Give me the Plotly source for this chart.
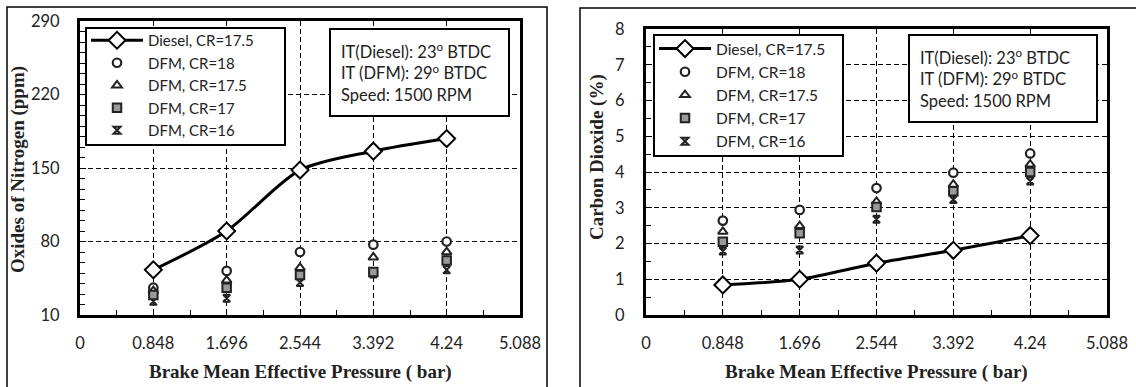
import plotly.graph_objects as go

# Brake mean effective pressure (bar)
bmep = [0.848, 1.696, 2.544, 3.392, 4.24]
x_tick_vals = [0, 0.848, 1.696, 2.544, 3.392, 4.24, 5.088]
x_tick_text = ["0", "0.848", "1.696", "2.544", "3.392", "4.24", "5.088"]

# Oxides of nitrogen (ppm)
nox_diesel = [53, 90, 148, 166, 178]
nox_cr18 = [36, 52, 70, 77, 80]
nox_cr175 = [33, 43, 55, 65, 70]
nox_cr17 = [29, 36, 48, 51, 62]
nox_cr16 = [23, 26, 41, 49, 53]
nox_ticks = [10, 80, 150, 220, 290]

# Carbon dioxide (%)
co2_diesel = [0.84, 1.0, 1.45, 1.81, 2.22]
co2_cr18 = [2.64, 2.94, 3.55, 3.98, 4.52]
co2_cr175 = [2.33, 2.49, 3.17, 3.65, 4.21]
co2_cr17 = [2.05, 2.29, 3.02, 3.46, 4.0]
co2_cr16 = [1.79, 1.82, 2.68, 3.23, 3.75]
co2_ticks = [0, 1, 2, 3, 4, 5, 6, 7, 8]

series_names = ["Diesel, CR=17.5", "DFM, CR=18", "DFM, CR=17.5", "DFM, CR=17", "DFM, CR=16"]

W, H = 1136, 387


def px_x(p):
    return p / W


def px_y(p):
    return 1 - p / H


SANS = "Lato"
SERIF = "Liberation Serif"
INK = "#222"

fig = go.Figure()


def add_panel(xa, ya, legend, diesel, cr18, cr175, cr17, cr16):
    fig.add_trace(go.Scatter(
        x=bmep, y=diesel, name=series_names[0], mode="lines+markers",
        line=dict(color="black", width=3, shape="spline", smoothing=0.8),
        marker=dict(symbol="diamond", size=13, color="white",
                    line=dict(color="black", width=2)),
        xaxis=xa, yaxis=ya, legend=legend))
    fig.add_trace(go.Scatter(
        x=bmep, y=cr18, name=series_names[1], mode="markers",
        marker=dict(symbol="circle", size=8.5, color="white",
                    line=dict(color=INK, width=2.2)),
        xaxis=xa, yaxis=ya, legend=legend))
    fig.add_trace(go.Scatter(
        x=bmep, y=cr175, name=series_names[2], mode="markers",
        marker=dict(symbol="triangle-up", size=8.5, color="white",
                    line=dict(color=INK, width=2)),
        xaxis=xa, yaxis=ya, legend=legend))
    fig.add_trace(go.Scatter(
        x=bmep, y=cr16, name=series_names[4], mode="markers",
        marker=dict(symbol="hourglass-open", size=7, color=INK,
                    line=dict(color=INK, width=2)),
        xaxis=xa, yaxis=ya, legend=legend, legendrank=1005))
    fig.add_trace(go.Scatter(
        x=bmep, y=cr17, name=series_names[3], mode="markers",
        marker=dict(symbol="square", size=8.5, color="#9a9a9a",
                    line=dict(color=INK, width=2)),
        xaxis=xa, yaxis=ya, legend=legend, legendrank=1004))


add_panel("x", "y", "legend", nox_diesel, nox_cr18, nox_cr175, nox_cr17, nox_cr16)
add_panel("x2", "y2", "legend2", co2_diesel, co2_cr18, co2_cr175, co2_cr17, co2_cr16)

grid_common = dict(
    showgrid=True, gridcolor="black", gridwidth=1.4, griddash="5px,3px",
    showline=True, linecolor="black", linewidth=3, mirror=True,
    zeroline=False, ticks="inside", ticklen=6, tickcolor="black",
    automargin=False,
    tickfont=dict(family=SANS, size=16.5, color=INK),
)

xaxis_common = dict(
    range=[0, 5.088], tickvals=x_tick_vals, ticktext=x_tick_text,
    ticklabelstandoff=11,
    minor=dict(ticks="inside", ticklen=5, tickcolor="black", dtick=0.424, tick0=0,
               showgrid=False),
    **grid_common,
)

legend_common = dict(
    xanchor="left", yanchor="top", bgcolor="rgba(0,0,0,0)", borderwidth=0,
    traceorder="normal", itemwidth=52,
)

fig.update_layout(
    width=W, height=H,
    margin=dict(l=0, r=0, t=0, b=0, autoexpand=False),
    paper_bgcolor="white", plot_bgcolor="white",
    showlegend=True,
    xaxis=dict(domain=[px_x(80), px_x(520)], anchor="y", **xaxis_common),
    yaxis=dict(domain=[px_y(315), px_y(21)], anchor="x", range=[10, 290],
               tickvals=nox_ticks, ticklabelstandoff=14,
               minor=dict(ticks="inside", ticklen=5, tickcolor="black", dtick=10,
                          tick0=10, showgrid=False),
               **grid_common),
    xaxis2=dict(domain=[px_x(646), px_x(1107)], anchor="y2", **xaxis_common),
    yaxis2=dict(domain=[px_y(315), px_y(29)], anchor="x2", range=[0, 8],
                tickvals=co2_ticks, ticklabelstandoff=15,
                minor=dict(ticks="inside", ticklen=5, tickcolor="black", dtick=0.5,
                           tick0=0, showgrid=False),
                **grid_common),
    legend=dict(x=px_x(86), y=px_y(24),
                font=dict(family=SANS, size=15, color=INK), **legend_common),
    legend2=dict(x=px_x(654), y=px_y(32),
                 font=dict(family=SANS, size=15.5, color=INK), **legend_common),
)

# framed boxes behind the legends
for x0, x1, y0, y1 in [(86, 285, 28, 145), (654, 843, 35, 156)]:
    fig.add_shape(type="rect", xref="paper", yref="paper", layer="above",
                  x0=px_x(x0), x1=px_x(x1), y0=px_y(y1), y1=px_y(y0),
                  fillcolor="white", line=dict(color="black", width=2))

info_text = "IT(Diesel): 23<sup>o</sup> BTDC<br>IT (DFM): 29<sup>o</sup> BTDC<br>Speed: 1500 RPM"
for x0, y0, bw, bh in [(329, 28, 181, 89), (908, 34, 190, 89)]:
    fig.add_annotation(
        xref="paper", yref="paper", x=px_x(x0), y=px_y(y0),
        xanchor="left", yanchor="top", text=info_text, showarrow=False,
        align="left", width=bw - 24, height=bh - 24, valign="middle",
        bgcolor="white", bordercolor="black", borderwidth=2, borderpad=10,
        font=dict(family=SANS, size=16.5, color=INK))

# axis titles
title_font = dict(family=SERIF, size=19, color=INK)
for cx in (300, 876):
    fig.add_annotation(xref="paper", yref="paper", x=px_x(cx), y=px_y(372),
                       text="<b>Brake Mean Effective Pressure ( bar)</b>", showarrow=False,
                       font=title_font, xanchor="center", yanchor="middle")
fig.add_annotation(xref="paper", yref="paper", x=px_x(18), y=px_y(170),
                   text="<b>Oxides of Nitrogen (ppm)</b>", showarrow=False, textangle=-90,
                   font=dict(family=SERIF, size=19, color=INK),
                   xanchor="center", yanchor="middle")
fig.add_annotation(xref="paper", yref="paper", x=px_x(597), y=px_y(157),
                   text="<b>Carbon Dioxide (%)</b>", showarrow=False, textangle=-90,
                   font=dict(family=SERIF, size=19, color=INK),
                   xanchor="center", yanchor="middle")

# panel frames
fig.add_shape(type="rect", xref="paper", yref="paper",
              x0=px_x(7), x1=px_x(547), y0=-0.05, y1=px_y(7),
              line=dict(color="black", width=1.5))
fig.add_shape(type="rect", xref="paper", yref="paper",
              x0=px_x(580), x1=1.05, y0=-0.05, y1=px_y(8),
              line=dict(color="black", width=1.5))

fig.write_html("out.html")
